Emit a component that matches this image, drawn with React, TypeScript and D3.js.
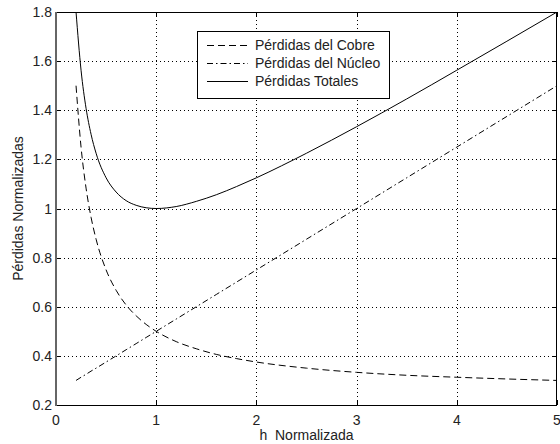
import React from "react";
import * as d3 from "d3";

// Values
const hValues = [0.2, 0.25, 0.3, 0.35, 0.4, 0.5, 0.6, 0.7, 0.8, 0.9, 1.0, 1.2, 1.4, 1.6, 1.8, 2.0, 2.5, 3.0, 3.5, 4.0, 4.5, 5.0];
const copperLoss = [1.5, 1.25, 1.083, 0.964, 0.875, 0.75, 0.667, 0.607, 0.563, 0.528, 0.5, 0.458, 0.429, 0.406, 0.389, 0.375, 0.35, 0.333, 0.321, 0.313, 0.306, 0.3];
const coreLoss = [0.3, 0.313, 0.325, 0.338, 0.35, 0.375, 0.4, 0.425, 0.45, 0.475, 0.5, 0.55, 0.6, 0.65, 0.7, 0.75, 0.875, 1.0, 1.125, 1.25, 1.375, 1.5];
const totalLoss = [1.8, 1.563, 1.408, 1.302, 1.225, 1.125, 1.067, 1.032, 1.013, 1.003, 1.0, 1.008, 1.029, 1.056, 1.089, 1.125, 1.225, 1.333, 1.446, 1.563, 1.681, 1.8];

const xTicks = [0, 1, 2, 3, 4, 5];
const yTicks = [0.2, 0.4, 0.6, 0.8, 1.0, 1.2, 1.4, 1.6, 1.8];
const yTickLabels = ["0.2", "0.4", "0.6", "0.8", "1", "1.2", "1.4", "1.6", "1.8"];
const xTickLabels = ["0", "1", "2", "3", "4", "5"];

const seriesNames = ["Pérdidas del Cobre", "Pérdidas del Núcleo", "Pérdidas Totales"];
const seriesDash = ["7,4", "6,3,1.5,3", "none"];

const W = 560, H = 444;
const L = 56, R = 557, T = 12, B = 405;
const FONT = "'Liberation Sans', Arial, sans-serif";

export default function App() {
  const x = d3.scaleLinear().domain([0, 5]).range([L, R]);
  const y = d3.scaleLinear().domain([0.2, 1.8]).range([B, T]);
  const series = [copperLoss, coreLoss, totalLoss];
  const line = d3
    .line<[number, number]>()
    .x((d) => x(d[0]))
    .y((d) => y(d[1]))
    .curve(d3.curveMonotoneX);

  const legX = 197, legY = 31, legW = 192, legH = 67;
  const rowY = [45, 63, 81];

  return (
    <svg width={W} height={H} style={{ position: "absolute", left: 0, top: 0, background: "#fff" }} fontFamily={FONT}>
      <defs>
        <clipPath id="plot">
          <rect x={L} y={T} width={R - L} height={B - T} />
        </clipPath>
      </defs>
      <rect x={0} y={0} width={W} height={H} fill="#fff" />
      {/* grid */}
      {xTicks.slice(1, -1).map((t) => (
        <line key={"gx" + t} x1={Math.round(x(t)) + 0.5} x2={Math.round(x(t)) + 0.5} y1={T} y2={B} stroke="#000" strokeWidth={1} strokeDasharray="1,3" />
      ))}
      {yTicks.slice(1, -1).map((t) => (
        <line key={"gy" + t} y1={Math.round(y(t)) + 0.5} y2={Math.round(y(t)) + 0.5} x1={L} x2={R} stroke="#000" strokeWidth={1} strokeDasharray="1,3" />
      ))}
      {/* ticks inside */}
      {xTicks.map((t) => (
        <g key={"tx" + t}>
          <line x1={Math.round(x(t)) + 0.5} x2={Math.round(x(t)) + 0.5} y1={B} y2={B - 5} stroke="#000" />
          <line x1={Math.round(x(t)) + 0.5} x2={Math.round(x(t)) + 0.5} y1={T} y2={T + 5} stroke="#000" />
        </g>
      ))}
      {yTicks.map((t) => (
        <g key={"ty" + t}>
          <line y1={Math.round(y(t)) + 0.5} y2={Math.round(y(t)) + 0.5} x1={L} x2={L + 5} stroke="#000" />
          <line y1={Math.round(y(t)) + 0.5} y2={Math.round(y(t)) + 0.5} x1={R} x2={R - 5} stroke="#000" />
        </g>
      ))}
      {/* curves */}
      <g clipPath="url(#plot)">
        {series.map((s, i) => (
          <path
            key={i}
            d={line(hValues.map((h, j) => [h, s[j]] as [number, number])) || ""}
            fill="none"
            stroke="#000"
            strokeWidth={1}
            strokeDasharray={seriesDash[i]}
          />
        ))}
      </g>
      {/* box */}
      <rect x={L + 0.5} y={T + 0.5} width={R - L - 1} height={B - T} fill="none" stroke="#000" strokeWidth={1} />
      <line x1={L} x2={L} y1={T} y2={B + 1} stroke="#666" strokeWidth={2} />
      {/* tick labels */}
      {yTicks.map((t, i) => (
        <text key={"yl" + t} x={L - 4} y={y(t) + 5} textAnchor="end" fontSize={14} fill="#222">
          {yTickLabels[i]}
        </text>
      ))}
      {xTicks.map((t, i) => (
        <text key={"xl" + t} x={x(t)} y={B + 20} textAnchor="middle" fontSize={14} fill="#222">
          {xTickLabels[i]}
        </text>
      ))}
      {/* axis labels */}
      <text x={(L + R) / 2} y={440} textAnchor="middle" fontSize={14} fill="#222" xmlSpace="preserve">
        h  Normalizada
      </text>
      <text transform={`translate(23, ${(T + B) / 2}) rotate(-90)`} textAnchor="middle" fontSize={14} fill="#222">
        Pérdidas Normalizadas
      </text>
      {/* legend */}
      <rect x={legX + 0.5} y={legY + 0.5} width={legW} height={legH} fill="#fff" stroke="#000" strokeWidth={1} />
      {seriesNames.map((n, i) => (
        <g key={n}>
          <line x1={207} x2={248} y1={rowY[i] + 0.5} y2={rowY[i] + 0.5} stroke="#000" strokeWidth={1} strokeDasharray={seriesDash[i]} />
          <text x={255} y={rowY[i] + 5} fontSize={14} fill="#222">
            {n}
          </text>
        </g>
      ))}
    </svg>
  );
}
